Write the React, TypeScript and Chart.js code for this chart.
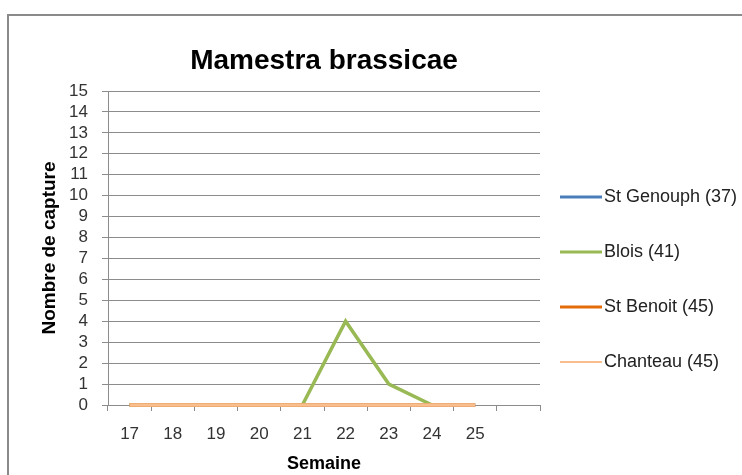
import React, { useEffect, useRef } from "react";
import { Chart, registerables } from "chart.js";

Chart.register(...registerables);

const chartTitle = "Mamestra brassicae";
const xTitle = "Semaine";
const yTitle = "Nombre de capture";

const weeks = ["17", "18", "19", "20", "21", "22", "23", "24", "25", ""];
const seriesLabels = ["St Genouph (37)", "Blois (41)", "St Benoit (45)", "Chanteau (45)"];
const stGenouph = [0, 0, 0, 0, 0, 0, 0, 0, 0, null];
const blois = [0, 0, 0, 0, 0, 4, 1, 0, null, null];
const stBenoit = [0, 0, 0, 0, 0, 0, 0, 0, 0, null];
const chanteau = [0, 0, 0, 0, 0, 0, 0, 0, 0, null];
const seriesColors = ["#4A7EBB", "#98B954", "#E46C0A", "#F9BE8E"];
const legendLineWidths = [3, 3, 3, 2];
const yMin = 0;
const yMax = 15;
const yStep = 1;

const FONT = "'Liberation Sans', Arial, sans-serif";
const GRID = "#8c8c8c";

function lineSwatch(color: string, width: number) {
  const c = document.createElement("canvas");
  c.width = 42;
  c.height = 6;
  const g = c.getContext("2d")!;
  g.strokeStyle = color;
  g.lineWidth = width;
  g.beginPath();
  g.moveTo(0, 3);
  g.lineTo(42, 3);
  g.stroke();
  return c;
}

const framePlugin = {
  id: "frame",
  beforeDraw(chart: any) {
    const ctx = chart.ctx;
    ctx.save();
    ctx.fillStyle = "#ffffff";
    ctx.fillRect(0, 0, chart.width, chart.height);
    ctx.strokeStyle = "#8a8a8a";
    ctx.lineWidth = 2;
    ctx.strokeRect(8, 15, chart.width + 20, chart.height + 20);
    ctx.restore();
  },
};

export default function App() {
  const ref = useRef<HTMLCanvasElement>(null);

  useEffect(() => {
    if (!ref.current) return;
    const seriesData = [stGenouph, blois, stBenoit, chanteau];
    const swatches = seriesColors.map((c, i) => lineSwatch(c, legendLineWidths[i]));
    const chart = new Chart(ref.current, {
      type: "line",
      data: {
        labels: weeks,
        datasets: seriesData.map((d, i) => ({
          label: seriesLabels[i],
          data: d,
          borderColor: seriesColors[i],
          backgroundColor: seriesColors[i],
          borderWidth: 3.5,
          pointRadius: 0,
          pointHoverRadius: 0,
          tension: 0,
          fill: false,
          clip: false,
          order: 4 - i,
        })),
      },
      options: {
        animation: false,
        responsive: false,
        devicePixelRatio: 1,
        layout: { padding: 0 },
        font: { family: FONT },
        plugins: {
          tooltip: { enabled: false },
          title: {
            display: true,
            text: chartTitle,
            fullSize: false,
            color: "#000",
            font: { family: FONT, size: 28, weight: "bold", lineHeight: 1.2 },
            padding: { top: 44.2, bottom: 13.2 },
          },
          legend: {
            display: true,
            position: "right",
            align: "start",
            fullSize: true,
            maxWidth: 202,
            title: {
              display: true,
              text: " ",
              font: { family: FONT, size: 10, lineHeight: 1.2 },
              padding: { top: 149, bottom: 0 },
            },
            labels: {
              usePointStyle: true,
              pointStyleWidth: 28,
              padding: 27,
              color: "#222",
              font: { family: FONT, size: 18, lineHeight: "28px" },
              generateLabels: (ch: any) =>
                ch.data.datasets.map((ds: any, i: number) => ({
                  text: [ds.label],
                  fillStyle: ds.borderColor,
                  strokeStyle: ds.borderColor,
                  lineWidth: 0,
                  pointStyle: swatches[i],
                  hidden: false,
                  datasetIndex: i,
                  fontColor: "#222",
                })),
            },
          },
        },
        scales: {
          x: {
            type: "category",
            offset: true,
            afterFit: (s: any) => {
              s.height = 70;
            },
            grid: {
              display: true,
              drawOnChartArea: false,
              drawTicks: true,
              tickLength: 6,
              offset: true,
              color: GRID,
            },
            border: { display: true, color: GRID, width: 1 },
            ticks: {
              color: "#333",
              padding: 13,
              maxRotation: 0,
              autoSkip: false,
              font: { family: FONT, size: 17 },
            },
            title: {
              display: true,
              text: xTitle,
              color: "#000",
              font: { family: FONT, size: 18, weight: "bold", lineHeight: 1.2 },
              padding: { top: 0, bottom: 0 },
            },
          },
          y: {
            min: yMin,
            max: yMax,
            afterFit: (s: any) => {
              s.width = 108;
            },
            grid: {
              display: true,
              drawOnChartArea: true,
              drawTicks: true,
              tickLength: 6,
              color: GRID,
            },
            border: { display: true, color: GRID, width: 1 },
            ticks: {
              stepSize: yStep,
              autoSkip: false,
              color: "#333",
              padding: 14,
              font: { family: FONT, size: 17 },
            },
            title: {
              display: true,
              text: yTitle,
              color: "#000",
              font: { family: FONT, size: 19, weight: "bold", lineHeight: 1.2 },
              padding: { top: 38.6, bottom: 0 },
            },
          },
        },
      } as any,
      plugins: [framePlugin],
    });
    return () => chart.destroy();
  }, []);

  return (
    <div style={{ position: "absolute", left: 0, top: 0, width: 742, height: 475 }}>
      <canvas ref={ref} width={742} height={475} style={{ display: "block" }} />
    </div>
  );
}
